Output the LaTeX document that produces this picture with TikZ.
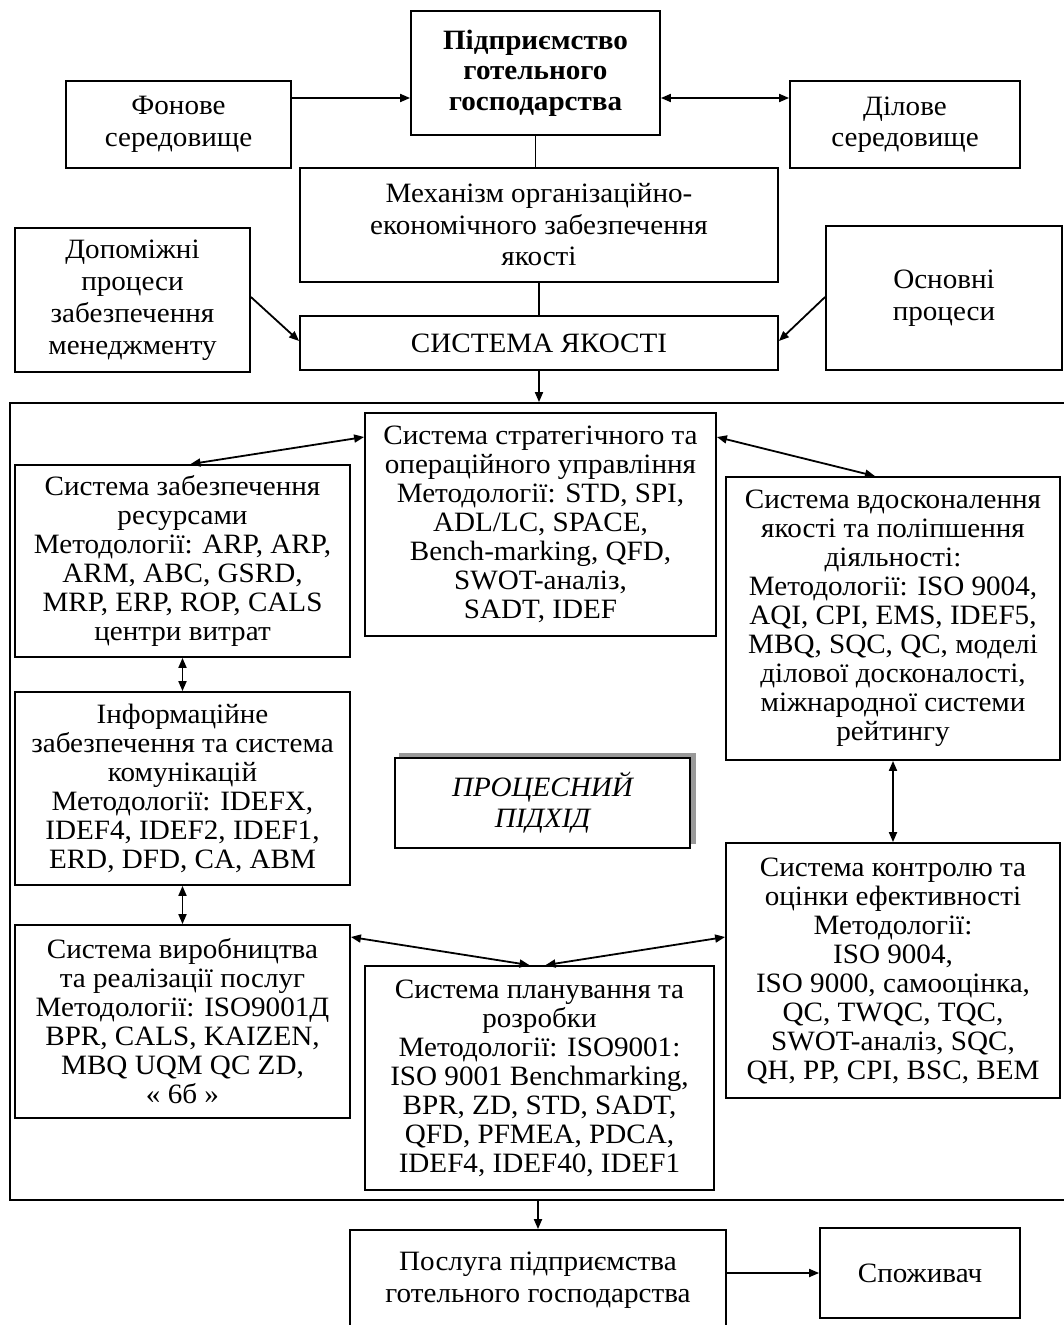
\documentclass[tikz,border=0pt]{standalone}
\usepackage{fontspec}
\setmainfont{Liberation Serif}[FakeStretch=1.04]
\usetikzlibrary{arrows.meta,calc}

\begin{document}
\begin{tikzpicture}[x=1pt,y=-1pt,
  box/.style={draw, line width=1.8pt, rectangle, align=center, inner sep=0pt,
              font=\fontsize{28}{29}\selectfont},
  wide/.style={font=\fontsize{28}{31.5}\selectfont},
  conn/.style={line width=1.8pt},
  tip/.tip={Triangle[length=10pt,width=8pt]},
  arr/.style={conn, -tip},
  darr/.style={conn, tip-tip}]

\useasboundingbox (0,0) rectangle (1064,1325);
\clip (0,0) rectangle (1064,1325);

% upper part: enterprise and its environments
\node[box, font={\fontsize{28}{30.5}\selectfont\bfseries}, minimum width=249pt, minimum height=124pt] (top) at (535.5,73)
  {Підприємство\\готельного\\господарства};
\node[box, wide, minimum width=225pt, minimum height=87pt] (fon) at (178.5,124.5)
  {Фонове\\середовище};
\node[box, wide, minimum width=230pt, minimum height=87pt] (dil) at (905,124.5)
  {Ділове\\середовище};
\node[box, wide, minimum width=478pt, minimum height=114pt] (mech) at (539,225)
  {Механізм організаційно-\\економічного забезпечення\\якості};
\node[box, font=\fontsize{28}{32}\selectfont, minimum width=235pt, minimum height=144pt] (dop) at (132.5,300)
  {Допоміжні\\процеси\\забезпечення\\менеджменту};
\node[box, wide, minimum width=236pt, minimum height=144pt] (osn) at (944,298)
  {Основні\\процеси};
\node[box, minimum width=478pt, minimum height=54pt] (sys) at (539,343)
  {СИСТЕМА ЯКОСТІ};

% frame of the process approach
\node[draw, line width=1.8pt, rectangle, minimum width=1060pt, minimum height=797pt, inner sep=0pt]
  (frame) at (540,801.5) {};

\node[box, minimum width=351pt, minimum height=223pt] (strat) at (540.5,524.5)
  {Система стратегічного та\\операційного управління\\Методології: STD, SPI,\\ADL/LC, SPACE,\\Bench-marking, QFD,\\SWOT-аналіз,\\SADT, IDEF};
\node[box, minimum width=335pt, minimum height=192pt] (res) at (182.5,561)
  {Система забезпечення\\ресурсами\\Методології: ARP, ARP,\\ARM, ABC, GSRD,\\MRP, ERP, ROP, CALS\\центри витрат};
\node[box, minimum width=334pt, minimum height=283pt] (vdos) at (893,618.5)
  {Система вдосконалення\\якості та поліпшення\\діяльності:\\Методології: ISO 9004,\\AQI, CPI, EMS, IDEF5,\\MBQ, SQC, QC, моделі\\ділової досконалості,\\міжнародної системи\\рейтингу};
\node[box, minimum width=335pt, minimum height=193pt] (info) at (182.5,788.5)
  {Інформаційне\\забезпечення та система\\комунікацій\\Методології: IDEFX,\\IDEF4, IDEF2, IDEF1,\\ERD, DFD, CA, ABM};

% shadowed label in the middle
\fill[black!40] (399,753) rectangle (696,844);
\node[box, line width=2.8pt, fill=white, font=\fontsize{28}{31}\selectfont\itshape,
      minimum width=295pt, minimum height=90pt] (proc) at (542.5,803)
  {ПРОЦЕСНИЙ\\ПІДХІД};

\node[box, minimum width=334pt, minimum height=255pt] (ctrl) at (893,970.5)
  {Система контролю та\\оцінки ефективності\\Методології:\\ISO 9004,\\ISO 9000, самооцінка,\\QC, TWQC, TQC,\\SWOT-аналіз, SQC,\\QH, PP, CPI, BSC, BEM};
\node[box, minimum width=335pt, minimum height=193pt] (vyr) at (182.5,1021.5)
  {Система виробництва\\та реалізації послуг\\Методології: ISO9001Д\\BPR, CALS, KAIZEN,\\MBQ UQM QC ZD,\\« 6б »};
\node[box, minimum width=349pt, minimum height=224pt] (plan) at (539.5,1078)
  {Система планування та\\розробки\\Методології: ISO9001:\\ISO 9001 Benchmarking,\\BPR, ZD, STD, SADT,\\QFD, PFMEA, PDCA,\\IDEF4, IDEF40, IDEF1};

% output
\node[box, wide, minimum width=376pt, minimum height=100pt] (posl) at (538,1280)
  {Послуга підприємства\\готельного господарства};
\node[box, wide, minimum width=200pt, minimum height=90pt] (spoz) at (920,1273)
  {Споживач};

% connectors
\draw[arr] (fon.east |- 0,98) -- (top.west |- 0,98);
\draw[darr] (top.east |- 0,98) -- (dil.west |- 0,98);
\draw[conn] (top.south) -- (top.south |- mech.north);
\draw[conn] (mech.south) -- (sys.north);
\draw[arr] (dop.east |- 0,297) -- (sys.west |- 0,341);
\draw[arr] (osn.west |- 0,297) -- (sys.east |- 0,341);
\draw[arr] (sys.south) -- (sys.south |- frame.north);
\draw[darr] (strat.west |- 0,437) -- ([xshift=8pt]res.north);
\draw[darr] (strat.east |- 0,437) -- ([xshift=-18pt]vdos.north);
\draw[darr] (res.south) -- (info.north);
\draw[darr] (info.south) -- (vyr.north);
\draw[darr] (vdos.south) -- (ctrl.north);
\draw[darr] (vyr.east |- 0,937) -- ([xshift=-10pt]plan.north);
\draw[darr] (ctrl.west |- 0,937) -- ([xshift=6pt]plan.north);
\draw[arr] (frame.south -| posl.north) -- (posl.north);
\draw[arr] (posl.east |- spoz.west) -- (spoz.west);
\end{tikzpicture}
\end{document}
